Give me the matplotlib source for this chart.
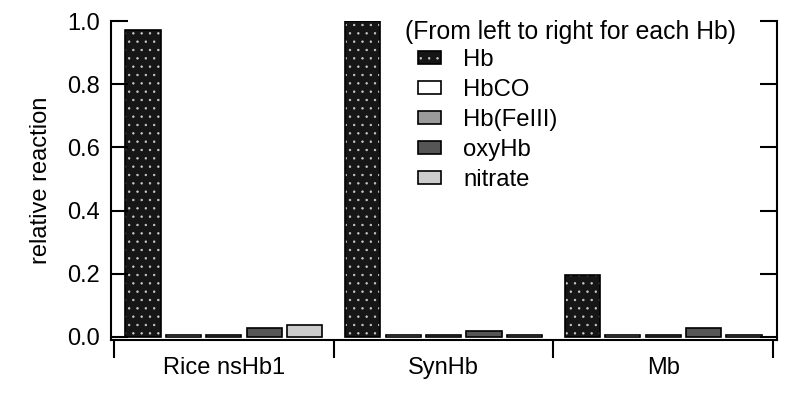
import matplotlib
matplotlib.use("Agg")
import matplotlib.pyplot as plt
from matplotlib.patches import Patch
from matplotlib.legend_handler import HandlerTuple
import numpy as np

plt.rcParams['font.family'] = ['Liberation Sans', 'DejaVu Sans']
plt.rcParams['hatch.linewidth'] = 0.5

categories = ['Rice nsHb1', 'SynHb', 'Mb']
series = ['Hb', 'HbCO', 'Hb(FeIII)', 'oxyHb', 'nitrate']
hb = [0.97, 1.0, 0.195]
hbco = [0.006, 0.006, 0.006]
hb_fe3 = [0.006, 0.006, 0.006]
oxyhb = [0.028, 0.018, 0.028]
nitrate = [0.037, 0.006, 0.006]
values = [hb, hbco, hb_fe3, oxyhb, nitrate]
colors = ['#161616', 'white', '#9a9a9a', '#555555', '#cccccc']
hatches = ['..', None, None, None, None]

fig = plt.figure(figsize=(8, 4), dpi=100)
ax = fig.add_axes([111/800, 60/400, 666/800, 319/400])

n = len(series)
step = 0.184
width = 0.16
x0 = np.arange(len(categories)) + 0.5
handles = []
for i, (name, vals) in enumerate(zip(series, values)):
    xs = x0 + (i - (n - 1) / 2) * step
    if hatches[i]:
        ax.bar(xs, vals, width, color=colors[i], edgecolor='#cccccc', hatch=hatches[i], linewidth=0)
        ax.bar(xs, vals, width, fill=False, edgecolor='black', linewidth=1.2)
        h = (Patch(facecolor=colors[i], edgecolor='#cccccc', hatch=hatches[i], linewidth=0),
             Patch(fill=False, edgecolor='black', linewidth=1.2))
    else:
        ax.bar(xs, vals, width, color=colors[i], edgecolor='black', linewidth=1.2)
        h = Patch(facecolor=colors[i], edgecolor='black', linewidth=1.2)
    handles.append(h)

ax.set_xlim(-0.0137, 3.018)
ax.set_ylim(-0.01, 1.0)

ax.spines['top'].set_visible(False)
for s in ['left', 'right', 'bottom']:
    ax.spines[s].set_linewidth(1.5)

ax.set_yticks([0.0, 0.2, 0.4, 0.6, 0.8, 1.0])
ax.set_yticklabels(['0.0', '0.2', '0.4', '0.6', '0.8', '1.0'])
ax.tick_params(axis='y', direction='in', length=12, width=1.5, labelsize=17, pad=8,
               right=True)

ax.set_xticks([0, 1, 2, 3])
ax.set_xticklabels([])
ax.tick_params(axis='x', which='major', direction='out', length=13, width=1.5)
ax.set_xticks(x0, minor=True)
ax.set_xticklabels(categories, minor=True)
ax.tick_params(axis='x', which='minor', length=0, labelsize=17, pad=12)

ax.set_ylabel('relative reaction', fontsize=17)
ax.yaxis.set_label_coords(-0.089, 0.5)

fig.text(405/800, 1 - 32/400, '(From left to right for each Hb)', fontsize=17.8,
         ha='left', va='center')
ax.legend(handles, series, loc='upper left', bbox_to_anchor=(418/800, 1 - 49/400),
          bbox_transform=fig.transFigure, frameon=False, fontsize=17.2,
          borderpad=0, borderaxespad=0, handlelength=0.95, handleheight=0.5,
          handletextpad=0.95, labelspacing=0.335,
          handler_map={tuple: HandlerTuple(ndivide=1, pad=0)})

fig.savefig('out.png', dpi=100)
